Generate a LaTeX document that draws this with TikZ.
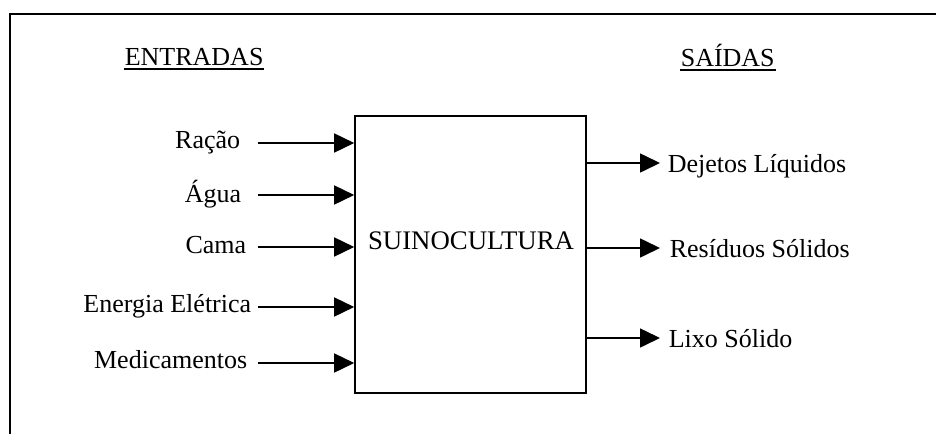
\documentclass[tikz,border=0pt]{standalone}
\usepackage{fontspec}
\setmainfont{Liberation Serif}
\usetikzlibrary{arrows.meta}

\begin{document}
\begin{tikzpicture}[x=1pt, y=-1pt, line width=1.6pt,
    every node/.style={font=\fontsize{26}{30}\selectfont, inner sep=0pt},
    flow/.style={-{Triangle[length=20pt,width=19pt]}},
    head/.style={anchor=base west}]
  \useasboundingbox (0,0) rectangle (936,434);
  % frame: only top and left edges
  \draw (10,434) -- (10,14) -- (936,14);

  \node[head] (ent) at (124,65) {ENTRADAS};
  \node[head] (sai) at (680,66) {SAÍDAS};
  \draw ([yshift=-4pt]ent.base west) -- ([yshift=-4pt]ent.base east);
  \draw ([yshift=-4pt]sai.base west) -- ([yshift=-4pt]sai.base east);

  \node[draw, minimum width=231pt, minimum height=277pt] (proc) at (470.5,254.5) {};
  \node[anchor=base, font=\fontsize{26.8}{30}\selectfont] (pname) at (471,249) {SUINOCULTURA};

  % inputs
  \node[anchor=base east] (racao) at (241,148) {Ração};
  \node[anchor=base east] (agua)  at (242,202) {Água};
  \node[anchor=base east] (cama)  at (247,253) {Cama};
  \node[anchor=base east] (energ) at (252,312) {Energia Elétrica};
  \node[anchor=base east] (medic) at (248,368) {Medicamentos};
  \coordinate (i1) at (258,143);
  \coordinate (i2) at (258,195);
  \coordinate (i3) at (258,247);
  \coordinate (i4) at (258,307);
  \coordinate (i5) at (258,363);
  \path[flow]
  (i1) edge (i1 -| proc.west)
  (i2) edge (i2 -| proc.west)
  (i3) edge (i3 -| proc.west)
  (i4) edge (i4 -| proc.west)
  (i5) edge (i5 -| proc.west)
       ;

  % outputs
  \node[anchor=base west] (dejet) at (667,172) {Dejetos Líquidos};
  \node[anchor=base west] (resid) at (669,257) {Resíduos Sólidos};
  \node[anchor=base west] (lixo)  at (668,347) {Lixo Sólido};
  \coordinate (o1) at (660,163);
  \coordinate (o2) at (660,248);
  \coordinate (o3) at (660,338);
  \path[flow]
  (o1 -| proc.east) edge (o1)
  (o2 -| proc.east) edge (o2)
  (o3 -| proc.east) edge (o3)
       ;
\end{tikzpicture}
\end{document}
